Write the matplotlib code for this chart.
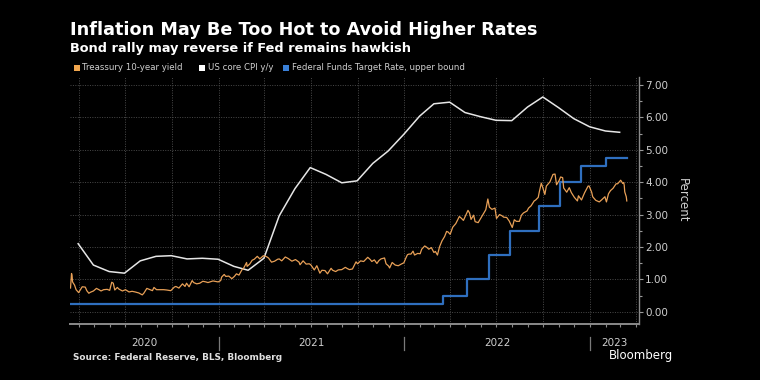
import matplotlib
matplotlib.use("Agg")
import matplotlib.pyplot as plt
import matplotlib.dates as mdates
from matplotlib.patches import Rectangle
from matplotlib.ticker import MultipleLocator, FormatStrFormatter
import numpy as np
import pandas as pd

# ---------------- data ----------------
tsy_dates = [
    "2020-03-16", "2020-03-18", "2020-03-19", "2020-03-20", "2020-03-24", "2020-03-27",
    "2020-04-01", "2020-04-08", "2020-04-14", "2020-04-17", "2020-04-21", "2020-04-24",
    "2020-04-30", "2020-05-06", "2020-05-12", "2020-05-15", "2020-05-20", "2020-05-27",
    "2020-06-01", "2020-06-05", "2020-06-08", "2020-06-11", "2020-06-16", "2020-06-19",
    "2020-06-26", "2020-07-02", "2020-07-09", "2020-07-15", "2020-07-21", "2020-07-28",
    "2020-08-04", "2020-08-07", "2020-08-13", "2020-08-19", "2020-08-24", "2020-08-27",
    "2020-09-01", "2020-09-08", "2020-09-15", "2020-09-21", "2020-09-29", "2020-10-06",
    "2020-10-09", "2020-10-15", "2020-10-22", "2020-10-27", "2020-10-30", "2020-11-04",
    "2020-11-10", "2020-11-13", "2020-11-19", "2020-11-25", "2020-12-01", "2020-12-07",
    "2020-12-11", "2020-12-17", "2020-12-21", "2020-12-28", "2020-12-31",
    "2021-01-05", "2021-01-07", "2021-01-12", "2021-01-15", "2021-01-21", "2021-01-27",
    "2021-02-01", "2021-02-05", "2021-02-10", "2021-02-16", "2021-02-19", "2021-02-25",
    "2021-02-26", "2021-03-03", "2021-03-08", "2021-03-12", "2021-03-18", "2021-03-23",
    "2021-03-30", "2021-04-05", "2021-04-09", "2021-04-15", "2021-04-21", "2021-04-27",
    "2021-04-30", "2021-05-05", "2021-05-12", "2021-05-18", "2021-05-25", "2021-06-01",
    "2021-06-08", "2021-06-10", "2021-06-16", "2021-06-22", "2021-06-28", "2021-07-01",
    "2021-07-08", "2021-07-13", "2021-07-19", "2021-07-23", "2021-07-29", "2021-08-03",
    "2021-08-10", "2021-08-13", "2021-08-19", "2021-08-24", "2021-08-31", "2021-09-07",
    "2021-09-10", "2021-09-15", "2021-09-21", "2021-09-28", "2021-10-01", "2021-10-07",
    "2021-10-13", "2021-10-21", "2021-10-26", "2021-10-29", "2021-11-03", "2021-11-08",
    "2021-11-12", "2021-11-16", "2021-11-23", "2021-11-26", "2021-12-01", "2021-12-03",
    "2021-12-08", "2021-12-14", "2021-12-20", "2021-12-27", "2021-12-31",
    "2022-01-04", "2022-01-07", "2022-01-10", "2022-01-14", "2022-01-18", "2022-01-21",
    "2022-01-27", "2022-02-01", "2022-02-04", "2022-02-10", "2022-02-14", "2022-02-18",
    "2022-02-23", "2022-02-28", "2022-03-03", "2022-03-07", "2022-03-11", "2022-03-16",
    "2022-03-21", "2022-03-25", "2022-03-28", "2022-04-01", "2022-04-06", "2022-04-12",
    "2022-04-19", "2022-04-22", "2022-04-27", "2022-05-02", "2022-05-06", "2022-05-09",
    "2022-05-12", "2022-05-17", "2022-05-20", "2022-05-26", "2022-06-01", "2022-06-06",
    "2022-06-10", "2022-06-14", "2022-06-17", "2022-06-22", "2022-06-28", "2022-07-01",
    "2022-07-07", "2022-07-12", "2022-07-15", "2022-07-21", "2022-07-26", "2022-08-01",
    "2022-08-05", "2022-08-09", "2022-08-15", "2022-08-19", "2022-08-23", "2022-08-30",
    "2022-09-02", "2022-09-07", "2022-09-13", "2022-09-16", "2022-09-21", "2022-09-23",
    "2022-09-27", "2022-09-30", "2022-10-04", "2022-10-07", "2022-10-14", "2022-10-20",
    "2022-10-24", "2022-10-27", "2022-11-01", "2022-11-04", "2022-11-08", "2022-11-10",
    "2022-11-16", "2022-11-21", "2022-11-25", "2022-12-01", "2022-12-07", "2022-12-09",
    "2022-12-15", "2022-12-21", "2022-12-28", "2022-12-30",
    "2023-01-04", "2023-01-06", "2023-01-12", "2023-01-19", "2023-01-24", "2023-01-30",
    "2023-02-02", "2023-02-06", "2023-02-10", "2023-02-15", "2023-02-21", "2023-02-24",
    "2023-03-02", "2023-03-06", "2023-03-08", "2023-03-09", "2023-03-10", "2023-03-13",
    "2023-03-14",
]
tsy_values = [
    0.73, 1.18, 1.12, 0.92, 0.82, 0.68,
    0.59, 0.77, 0.76, 0.65, 0.57, 0.60,
    0.64, 0.72, 0.67, 0.64, 0.68, 0.69,
    0.66, 0.91, 0.88, 0.67, 0.75, 0.70,
    0.64, 0.68, 0.61, 0.63, 0.61, 0.58,
    0.52, 0.57, 0.72, 0.68, 0.65, 0.75,
    0.68, 0.68, 0.68, 0.67, 0.65, 0.76,
    0.78, 0.73, 0.86, 0.78, 0.88, 0.77,
    0.96, 0.90, 0.86, 0.88, 0.94, 0.92,
    0.90, 0.93, 0.95, 0.93, 0.92,
    0.96, 1.07, 1.15, 1.09, 1.10, 1.02,
    1.09, 1.17, 1.13, 1.30, 1.34, 1.52,
    1.40, 1.47, 1.59, 1.62, 1.71, 1.63,
    1.73, 1.70, 1.66, 1.53, 1.56, 1.62,
    1.63, 1.57, 1.69, 1.64, 1.56, 1.61,
    1.53, 1.45, 1.57, 1.47, 1.48, 1.45,
    1.29, 1.42, 1.19, 1.28, 1.27, 1.17,
    1.34, 1.28, 1.24, 1.29, 1.30, 1.37,
    1.34, 1.30, 1.32, 1.54, 1.48, 1.57,
    1.55, 1.68, 1.61, 1.55, 1.60, 1.49,
    1.58, 1.63, 1.66, 1.48, 1.41, 1.35,
    1.52, 1.44, 1.42, 1.48, 1.51,
    1.66, 1.76, 1.78, 1.78, 1.87, 1.75,
    1.80, 1.79, 1.93, 2.03, 1.99, 1.93,
    1.98, 1.83, 1.86, 1.75, 2.00, 2.19,
    2.32, 2.48, 2.46, 2.39, 2.61, 2.72,
    2.94, 2.90, 2.82, 2.99, 3.13, 3.05,
    2.85, 2.98, 2.78, 2.75, 2.91, 3.04,
    3.15, 3.48, 3.23, 3.16, 3.20, 2.88,
    3.00, 2.96, 2.92, 2.91, 2.80, 2.60,
    2.84, 2.79, 2.79, 2.98, 3.05, 3.11,
    3.20, 3.27, 3.42, 3.45, 3.53, 3.69,
    3.97, 3.83, 3.62, 3.88, 4.01, 4.24,
    4.25, 3.92, 4.05, 4.16, 4.14, 3.82,
    3.69, 3.83, 3.68, 3.53, 3.42, 3.58,
    3.45, 3.67, 3.88, 3.88,
    3.69, 3.55, 3.44, 3.39, 3.46, 3.55,
    3.39, 3.64, 3.74, 3.81, 3.95, 3.95,
    4.06, 3.96, 3.99, 3.90, 3.70, 3.55,
    3.42,
]

cpi_months = pd.date_range("2020-03-31", "2023-02-28", freq="ME")
cpi_values = [
    2.10, 1.44, 1.24, 1.19, 1.57, 1.71, 1.73, 1.63, 1.65, 1.62,
    1.40, 1.28, 1.65, 2.96, 3.80, 4.45, 4.24, 3.98, 4.04, 4.58, 4.96, 5.48,
    6.04, 6.42, 6.47, 6.15, 6.02, 5.91, 5.90, 6.32, 6.63, 6.30, 5.96, 5.71,
    5.58, 5.54,
]

ff_dates = ["2020-03-16", "2022-03-17", "2022-05-05", "2022-06-16", "2022-07-28",
            "2022-09-22", "2022-11-03", "2022-12-15", "2023-02-02", "2023-03-14"]
ff_values = [0.25, 0.50, 1.00, 1.75, 2.50, 3.25, 4.00, 4.50, 4.75, 4.75]

year_labels = ["2020", "2021", "2022", "2023"]
legend_labels = ["Treassury 10-year yield", "US core CPI y/y",
                 "Federal Funds Target Rate, upper bound"]

title = "Inflation May Be Too Hot to Avoid Higher Rates"
subtitle = "Bond rally may reverse if Fed remains hawkish"
source = "Source: Federal Reserve, BLS, Bloomberg"

# ---------------- style ----------------
BG = "#000000"
ORANGE = "#e8a057"
ORANGE_SQ = "#f0a64e"
WHITE = "#e6e6e6"
BLUE = "#2f6fbf"
BLUE_SQ = "#3a80d8"
GRID = "#4a4a4a"
TXT = "#cfcfcf"

W, H = 760, 380
fig = plt.figure(figsize=(W / 100, H / 100), dpi=100, facecolor=BG)

def fx(px):
    return px / W

def fy(py):
    return 1 - py / H

ax_left, ax_right, ax_top, ax_bot = 70, 639, 77, 323.5
ax = fig.add_axes([fx(ax_left), fy(ax_bot), fx(ax_right - ax_left), (ax_bot - ax_top) / H])
ax.set_facecolor(BG)

tsy_x = pd.to_datetime(tsy_dates)
ff_x = pd.to_datetime(ff_dates)

ax.plot(ff_x, ff_values, drawstyle="steps-post", color=BLUE, lw=1.6, zorder=3)
ax.plot(cpi_months, cpi_values, color=WHITE, lw=1.1, zorder=4)
ax.plot(tsy_x, tsy_values, color=ORANGE, lw=0.9, zorder=5)

# axis limits
ax.set_xlim(pd.Timestamp("2020-03-15"), pd.Timestamp("2023-04-07"))
ax.set_ylim(-0.364, 7.247)

# y axis on the right
ax.yaxis.tick_right()
ax.yaxis.set_label_position("right")
ax.yaxis.set_major_locator(MultipleLocator(1))
ax.yaxis.set_minor_locator(MultipleLocator(0.5))
ax.yaxis.set_major_formatter(FormatStrFormatter("%.2f"))
ax.tick_params(axis="y", which="major", length=3, width=0.8, color="#9a9a9a",
               labelsize=7.5, labelcolor=TXT, pad=1.5)
ax.tick_params(axis="y", which="minor", length=2, width=0.8, color="#9a9a9a")
ax.set_ylabel("Percent", color=TXT, fontsize=8.5, rotation=270, labelpad=15)

# x axis
ax.xaxis.set_major_locator(mdates.MonthLocator(bymonth=[1, 4, 7, 10]))
ax.xaxis.set_minor_locator(mdates.MonthLocator())
ax.tick_params(axis="x", which="both", length=2.2, width=0.8, color="#8a8a8a",
               labelbottom=False)

for s in ["left", "top"]:
    ax.spines[s].set_visible(False)
ax.spines["bottom"].set_color("#8a8a8a")
ax.spines["bottom"].set_linewidth(1.4)
ax.spines["right"].set_color("#8a8a8a")
ax.spines["right"].set_linewidth(1.0)

ax.grid(True, which="major", axis="both", color=GRID, linestyle=(0, (1, 1.5)), lw=0.7)
ax.set_axisbelow(True)

# year labels and dividers
trans = ax.get_xaxis_transform()
x0, x1 = ax.get_xlim()
bounds = [x0] + [mdates.date2num(pd.Timestamp(f"{y}-01-01")) for y in (2021, 2022, 2023)] + [x1]
for i, lab in enumerate(year_labels):
    xc = (bounds[i] + bounds[i + 1]) / 2
    ax.text(xc, -0.079, lab, transform=trans, ha="center", va="center",
            color=TXT, fontsize=7.5, clip_on=False)
ax_h = ax_bot - ax_top
for b in bounds[1:-1]:
    ax.plot([b, b], [-(337 - ax_bot) / ax_h, -(350 - ax_bot) / ax_h], transform=trans,
            color="#7a7a7a", lw=0.9, clip_on=False)

# titles
fig.text(fx(70), fy(35), title, color="white", fontsize=12.7, fontweight="bold",
         ha="left", va="baseline")
fig.text(fx(70), fy(52), subtitle, color="white", fontsize=9.3, fontweight="bold",
         ha="left", va="baseline")

# legend
sq_cols = [ORANGE_SQ, "#ffffff", BLUE_SQ]
sq_x = [74, 199, 283]
for c, x, lab in zip(sq_cols, sq_x, legend_labels):
    fig.add_artist(Rectangle((fx(x), fy(71)), fx(6), 6 / H, transform=fig.transFigure,
                             facecolor=c, edgecolor="none"))
    fig.text(fx(x + 8.5), fy(68), lab, color=TXT, fontsize=6.2, ha="left", va="center")

# source and brand
fig.text(fx(73), fy(358), source, color="#e0e0e0", fontsize=6.4, fontweight="bold",
         ha="left", va="center")
fig.text(fx(673), fy(356), "Bloomberg", color="white", fontsize=8.5,
         ha="right", va="center")

fig.savefig("out.png", dpi=100, facecolor=BG)
